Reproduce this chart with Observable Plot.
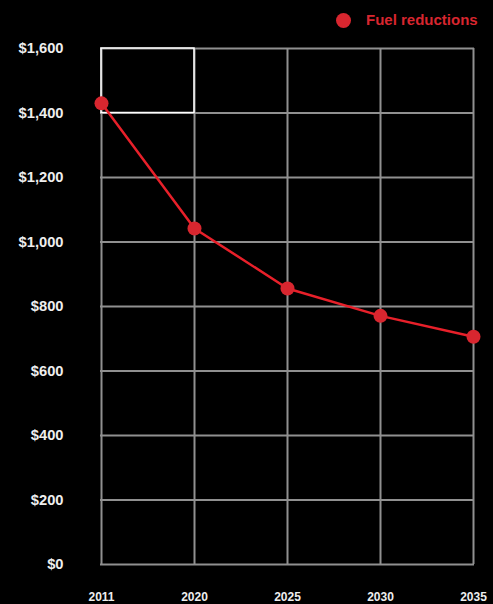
<!DOCTYPE html>
<html>
<head>
<meta charset="utf-8">
<script src="https://cdn.jsdelivr.net/npm/d3@7"></script>
<script src="https://cdn.jsdelivr.net/npm/@observablehq/plot@0.6"></script>
<style>
  html, body { margin: 0; padding: 0; background: #000; }
  body { width: 493px; height: 604px; overflow: hidden; font-family: "Liberation Sans", Arial, sans-serif; }
  #legend { position: relative; height: 36px; }
  #legend .dot { position: absolute; left: 336px; top: 13px; width: 15px; height: 15px; border-radius: 50%; background: #d8262f; }
  #legend .lbl { position: absolute; left: 366px; top: 11px; font-size: 15px; font-weight: bold; color: #d8262f; line-height: 18px; }
</style>
</head>
<body>
<div id="legend"><span class="dot"></span><span class="lbl">Fuel reductions</span></div>
<div id="chart"></div>
<script>
const years = ["2011", "2020", "2025", "2030", "2035"];
const fuelReductions = [1430, 1042, 856, 771, 706];
const yTicks = [0, 200, 400, 600, 800, 1000, 1200, 1400, 1600];
const highlightCell = [{x1: "2011", x2: "2020", y1: 1400, y2: 1600}];

const data = years.map((y, i) => ({year: y, value: fuelReductions[i]}));
const red = "#d8262f";

const chart = Plot.plot({
  width: 493,
  height: 568,
  marginTop: 12,
  marginBottom: 40,
  marginLeft: 100,
  marginRight: 19,
  style: {background: "#000", color: "#eee", fontFamily: "'Liberation Sans', Arial, sans-serif"},
  x: {type: "point", domain: years, padding: 0},
  y: {domain: [0, 1600]},
  marks: [
    Plot.ruleY(yTicks, {stroke: "#909090", strokeWidth: 2}),
    Plot.ruleX(years, {stroke: "#909090", strokeWidth: 2}),
    Plot.rect(highlightCell, {x1: "x1", x2: "x2", y1: "y1", y2: "y2", stroke: "#ffffff", strokeWidth: 1.5, fill: "none"}),
    Plot.axisY(yTicks, {tickSize: 0, tickPadding: 37, fontSize: 14.7, fontWeight: "bold", fill: "#eee", label: null,
      tickFormat: d => "$" + d3.format(",")(d)}),
    Plot.axisX(years, {tickSize: 0, tickPadding: 28, fontSize: 12, fontWeight: "bold", fill: "#eee", label: null}),
    Plot.line(data, {x: "year", y: "value", stroke: "#e8202a", strokeWidth: 2.5}),
    Plot.dot(data, {x: "year", y: "value", r: 7, fill: red, stroke: "none"})
  ]
});
document.getElementById("chart").appendChild(chart);
</script>
</body>
</html>
